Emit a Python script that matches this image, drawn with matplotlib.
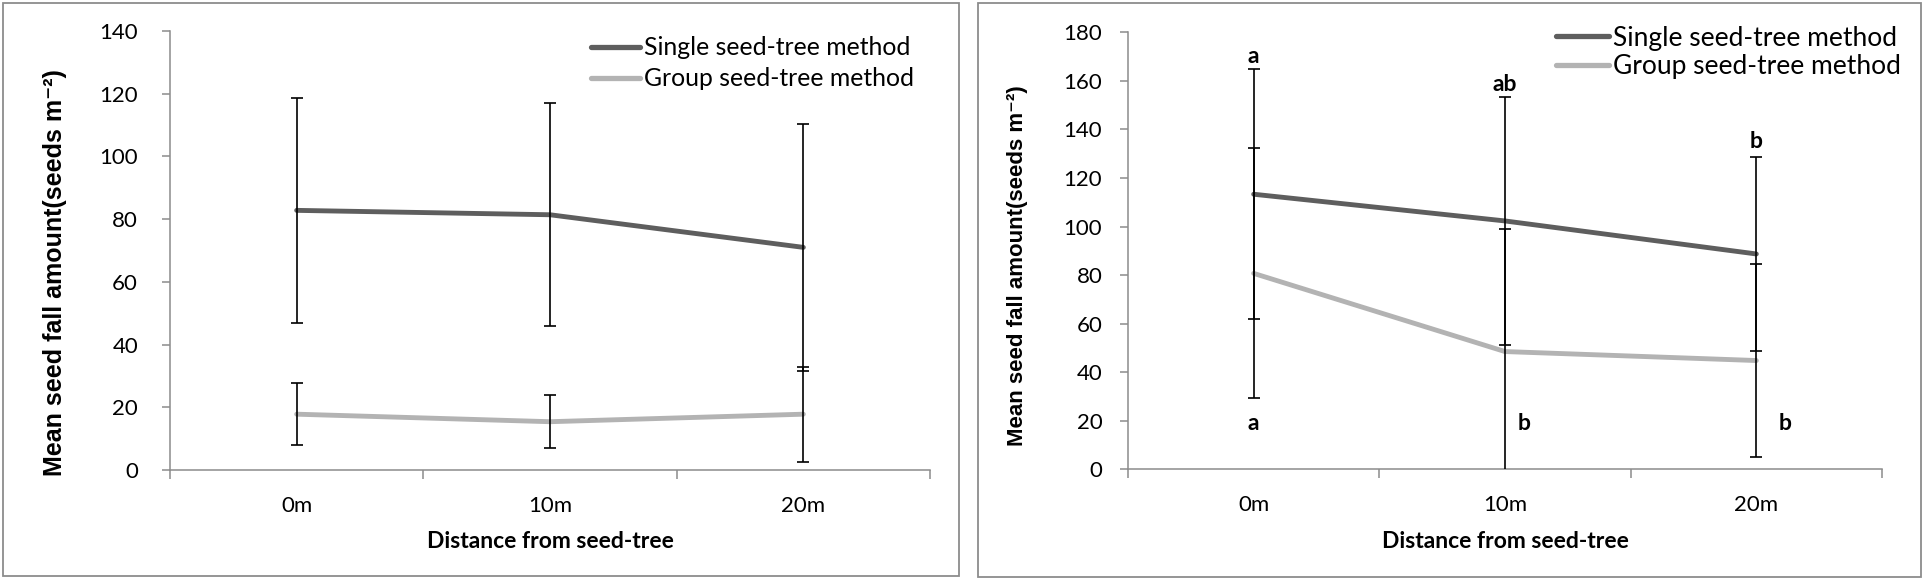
import matplotlib
matplotlib.use("Agg")
import matplotlib.pyplot as plt
from matplotlib.patches import Rectangle

# ---------------- data ----------------
categories = ["0m", "10m", "20m"]
series_names = ["Single seed-tree method", "Group seed-tree method"]

# left panel
left_single = [82.8, 81.4, 71.0]
left_single_err = [35.8, 35.6, 39.5]
left_group = [17.8, 15.4, 17.8]
left_group_err = [9.8, 8.4, 15.1]

# right panel
right_single = [113.3, 102.3, 88.7]
right_single_err = [51.4, 50.9, 39.8]
right_group = [80.7, 48.5, 44.8]
right_group_err = [51.5, 50.6, 39.9]

# significance letters (label, x position, y value)
right_letters_upper = [("a", 0.0, 170.2), ("ab", 1.0, 158.6), ("b", 2.0, 135.0)]
right_letters_lower = [("a", 0.0, 18.7), ("b", 1.076, 19.0), ("b", 2.115, 19.0)]

left_yticks = [0, 20, 40, 60, 80, 100, 120, 140]
right_yticks = [0, 20, 40, 60, 80, 100, 120, 140, 160, 180]

# ---------------- style ----------------
W, H = 1926, 582
DPI = 100
C_SINGLE = "#5e5e5e"
C_GROUP = "#b3b3b3"
C_AXIS = "#8c8c8c"
FONT = "Lato"
YFONT = ["Liberation Sans", "DejaVu Sans"]

fig = plt.figure(figsize=(W / DPI, H / DPI), dpi=DPI)


def px_rect(x0, y0, x1, y1):
    """pixel box (top-left origin) -> figure fraction [l, b, w, h]"""
    return [x0 / W, 1 - y1 / H, (x1 - x0) / W, (y1 - y0) / H]


# panel borders
for (x0, y0, x1, y1) in [(3, 3, 959, 576), (978, 3, 1921, 577)]:
    l, b, w, h = px_rect(x0, y0, x1, y1)
    fig.add_artist(Rectangle((l, b), w, h, transform=fig.transFigure,
                             fill=False, edgecolor=C_AXIS, lw=1.3))


def make_panel(rect, single, s_err, group, g_err, yticks, ylim,
               ylabel_xy, ylabel_size, leg_xy, leg_size, leg_spacing,
               ytick_pad):
    ax = fig.add_axes(px_rect(*rect))
    x = list(range(len(categories)))
    ax.plot(x, single, color=C_SINGLE, lw=3.5, solid_capstyle="round",
            label=series_names[0], zorder=2)
    ax.plot(x, group, color=C_GROUP, lw=3.5, solid_capstyle="round",
            label=series_names[1], zorder=2)
    ax.errorbar(x, single, yerr=s_err, fmt="none", ecolor="black",
                elinewidth=1.2, capsize=4, capthick=1.2, zorder=3)
    ax.errorbar(x, group, yerr=g_err, fmt="none", ecolor="black",
                elinewidth=1.2, capsize=4, capthick=1.2, zorder=3)

    ax.set_xlim(-0.5, len(categories) - 0.5)
    ax.set_ylim(*ylim)
    ax.set_yticks(yticks)
    ax.set_yticklabels([str(v) for v in yticks], fontfamily=FONT,
                       fontsize=16)
    ax.set_xticks([i - 0.5 for i in range(len(categories) + 1)])
    ax.set_xticklabels([])
    ax.set_xticks(x, minor=True)
    ax.set_xticklabels(categories, minor=True, fontfamily=FONT, fontsize=16)
    ax.tick_params(axis="x", which="major", direction="out", length=6.5,
                   width=1.1, color=C_AXIS)
    ax.tick_params(axis="x", which="minor", length=0, pad=18.5)
    ax.tick_params(axis="y", direction="out", length=5.5, width=1.1,
                   color=C_AXIS, pad=ytick_pad)
    for s in ("top", "right"):
        ax.spines[s].set_visible(False)
    for s in ("left", "bottom"):
        ax.spines[s].set_color(C_AXIS)
        ax.spines[s].set_linewidth(1.1)

    # axis titles
    fig.text(ylabel_xy[0] / W, 1 - ylabel_xy[1] / H,
             "Mean seed fall amount(seeds m\u207b\u00b2)",
             rotation=90, ha="center", va="center", fontfamily=YFONT,
             fontweight="bold", fontsize=ylabel_size)
    cx = (rect[0] + rect[2]) / 2
    fig.text(cx / W, 1 - 541 / H, "Distance from seed-tree", ha="center",
             va="center", fontfamily=FONT, fontweight="bold", fontsize=16.5)

    leg = ax.legend(loc="center left",
                    bbox_to_anchor=(leg_xy[0] / W, 1 - leg_xy[1] / H),
                    bbox_transform=fig.transFigure, frameon=False,
                    borderpad=0, borderaxespad=0, handlelength=2.0,
                    handletextpad=0.15, labelspacing=leg_spacing,
                    prop={"family": FONT, "size": leg_size})
    for ln in leg.get_lines():
        ln.set_linewidth(3.8)
        ln.set_solid_capstyle("round")
    return ax


axL = make_panel((170, 31, 930, 470), left_single, left_single_err,
                 left_group, left_group_err, left_yticks, (0, 140),
                 (55, 272.5), 18, (591, 63.3), 17.8, 0.32, 17.5)

axR = make_panel((1128, 32.3, 1882, 469.3), right_single, right_single_err,
                 right_group, right_group_err, right_yticks, (0, 180),
                 (1017.5, 266), 16, (1556, 52.2), 19, 0.12, 13)

for lab, xv, yv in right_letters_upper + right_letters_lower:
    axR.text(xv, yv, lab, ha="center", va="center", fontfamily=FONT,
             fontweight="bold", fontsize=16.5)

fig.savefig("out.png", dpi=DPI)
